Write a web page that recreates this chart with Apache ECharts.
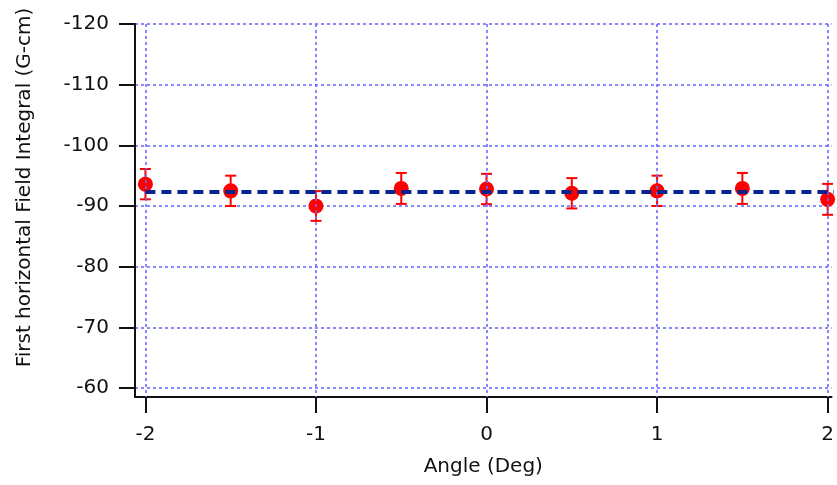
<!DOCTYPE html>
<html>
<head>
<meta charset="utf-8">
<script src="https://cdn.jsdelivr.net/npm/echarts@6/dist/echarts.min.js"></script>
<style>html,body{margin:0;padding:0;background:#fff;}#c{width:837px;height:485px;}</style>
</head>
<body>
<div id="c"></div>
<script>
const angles = [-2, -1.5, -1, -0.5, 0, 0.5, 1, 1.5, 2];
const fieldIntegral = [-93.6, -92.5, -90.0, -92.9, -92.8, -92.1, -92.5, -92.9, -91.1];
const errors = [2.5, 2.5, 2.45, 2.55, 2.5, 2.5, 2.5, 2.55, 2.55];
const fitValue = -92.3;
const fitRange = [-2, 2.1];
const xTicks = [-2, -1, 0, 1, 2];
const yTicks = [-120, -110, -100, -90, -80, -70, -60];

const FONT = 'DejaVu Sans';
const FS = 20;
const chart = echarts.init(document.getElementById('c'), null, {renderer: 'canvas'});
const gridStyle = {color: '#6c6cff', width: 1.6, type: [3, 3]};

chart.setOption({
  animation: false,
  backgroundColor: '#ffffff',
  grid: {left: 135, right: 0, top: 24, bottom: 88, containLabel: false},
  xAxis: {
    type: 'value',
    min: -2.061, max: 2.023,
    name: 'Angle (Deg)', nameLocation: 'middle', nameGap: 60,
    nameTextStyle: {fontFamily: FONT, fontSize: FS, color: '#111'},
    axisLine: {show: true, onZero: false, lineStyle: {color: '#111', width: 2}},
    axisTick: {show: true, length: 16, customValues: xTicks, lineStyle: {color: '#111', width: 2}},
    axisLabel: {customValues: xTicks, margin: 28, fontFamily: FONT, fontSize: FS, color: '#111'},
    splitLine: {show: false}
  },
  yAxis: {
    type: 'value',
    inverse: true,
    min: -120, max: -58.52, interval: 10,
    name: 'First horizontal Field Integral (G-cm)', nameLocation: 'middle', nameGap: 100, nameRotate: 90,
    nameTextStyle: {fontFamily: FONT, fontSize: FS, color: '#111', padding: [0, 0, 0, 46]},
    axisLine: {show: true, onZero: false, lineStyle: {color: '#111', width: 2}},
    axisTick: {show: true, length: 16, customValues: yTicks, lineStyle: {color: '#111', width: 2}},
    axisLabel: {customValues: yTicks, margin: 26, fontFamily: FONT, fontSize: FS, color: '#111'},
    splitLine: {show: true, lineStyle: gridStyle}
  },
  series: [
    {
      type: 'line',
      data: [],
      silent: true,
      z: 1,
      markLine: {
        silent: true,
        symbol: ['none', 'none'],
        label: {show: false},
        lineStyle: gridStyle,
        data: xTicks.map(v => ({xAxis: v}))
      }
    },
    {
      type: 'custom',
      z: 3,
      silent: true,
      data: angles.map((a, i) => [a, fieldIntegral[i], errors[i]]),
      renderItem: function (params, api) {
        const x = api.value(0), y = api.value(1), e = api.value(2);
        const top = api.coord([x, y - e]);
        const bot = api.coord([x, y + e]);
        const hw = 5.5;
        const st = {stroke: '#ff0000', lineWidth: 2};
        return {
          type: 'group',
          children: [
            {type: 'line', shape: {x1: top[0], y1: top[1], x2: bot[0], y2: bot[1]}, style: st},
            {type: 'line', shape: {x1: top[0] - hw, y1: top[1], x2: top[0] + hw, y2: top[1]}, style: st},
            {type: 'line', shape: {x1: bot[0] - hw, y1: bot[1], x2: bot[0] + hw, y2: bot[1]}, style: st}
          ]
        };
      }
    },
    {
      type: 'scatter',
      z: 4,
      symbol: 'circle',
      symbolSize: 15,
      itemStyle: {color: '#ff0000', opacity: 1},
      data: angles.map((a, i) => [a, fieldIntegral[i]])
    },
    {
      type: 'line',
      z: 5,
      symbol: 'none',
      silent: true,
      lineStyle: {color: '#0a238f', width: 4, type: [10, 6]},
      data: fitRange.map(a => [a, fitValue])
    }
  ]
});
</script>
</body>
</html>
